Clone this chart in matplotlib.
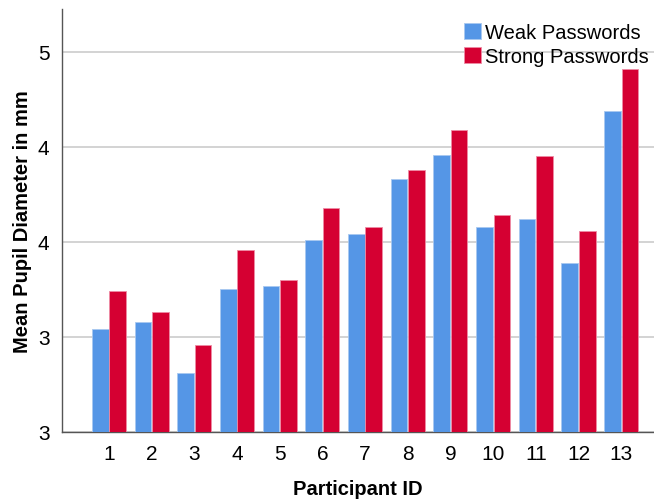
import matplotlib
matplotlib.use("Agg")
import matplotlib.pyplot as plt
import numpy as np

participants = [str(i) for i in range(1, 14)]
weak = [3.54, 3.58, 3.31, 3.75, 3.77, 4.01, 4.04, 4.33, 4.46, 4.08, 4.12, 3.89, 4.69]
strong = [3.74, 3.63, 3.46, 3.96, 3.80, 4.18, 4.08, 4.38, 4.59, 4.14, 4.45, 4.06, 4.91]
ytick_vals = [3.0, 3.5, 4.0, 4.5, 5.0]
ytick_labels = ["3", "3", "4", "4", "5"]

plt.rcParams['font.family'] = ['Liberation Sans', 'DejaVu Sans']

fig = plt.figure(figsize=(6.54, 5.02), dpi=100)
ax = fig.add_axes([62/654, 69/502, 592/654, 423/502])

x = np.arange(1, len(participants) + 1)
w = 0.39
ax.bar(x - w/2 - 0.01, weak, width=w, color='#5596e6', edgecolor='#a8c8f0', linewidth=0.6,
       label='Weak Passwords', zorder=3)
ax.bar(x + w/2 + 0.01, strong, width=w, color='#d50032', edgecolor='#ee8ca4', linewidth=0.6,
       label='Strong Passwords', zorder=3)

ax.set_xlim(-0.1, 13.77)
ax.set_ylim(3.0, 5.226)
ax.set_xticks(x)
ax.set_xticklabels(participants, fontsize=15)
ax.set_yticks(ytick_vals)
ax.set_yticklabels(ytick_labels, fontsize=15)
ax.tick_params(axis='x', length=0, pad=9)
ax.tick_params(axis='y', length=0, pad=9)
ax.yaxis.grid(True, color='#cccccc', linewidth=1.2, zorder=0)
ax.set_axisbelow(True)
for s in ['top', 'right']:
    ax.spines[s].set_visible(False)
for s in ['left', 'bottom']:
    ax.spines[s].set_color('#555555')
    ax.spines[s].set_linewidth(1.0)

ax.set_xlabel('Participant ID', fontsize=14.5, fontweight='bold', labelpad=11)
ax.set_ylabel('Mean Pupil Diameter in mm', fontsize=14.5, fontweight='bold', labelpad=4)

leg = ax.legend(loc='upper right', bbox_to_anchor=(1.012, 0.995), frameon=False, fontsize=14.5,
                handlelength=0.85, handleheight=0.85, handletextpad=0.2, labelspacing=0.25,
                borderaxespad=0.2)

fig.savefig('out.png', dpi=100)
